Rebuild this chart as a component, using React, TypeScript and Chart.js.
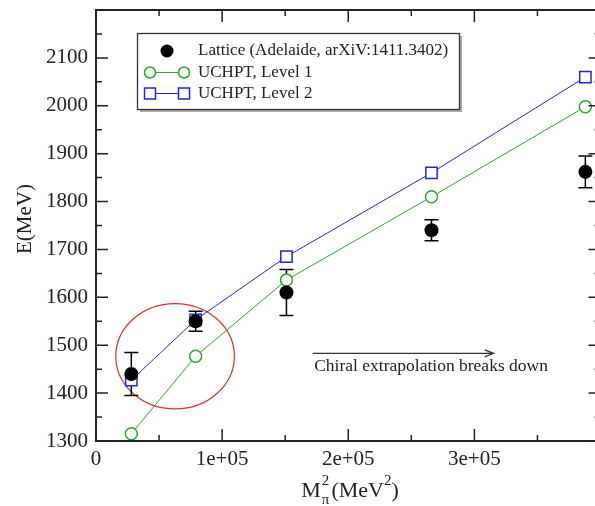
import React, { useEffect, useRef } from "react";
import { Chart, registerables } from "chart.js";

Chart.register(...registerables);

// ---- data ----
const mpiSq = [28000, 79000, 151000, 266000, 388000];
const latticeE = [1440, 1550, 1610, 1740, 1862];
const latticeErr = [45, 21, 48, 22, 33];
const level1E = [1315, 1477, 1636, 1810, 1998];
const level2E = [1427, 1553, 1685, 1860, 2060];

const xTicks = [0, 100000, 200000, 300000];
const yTicks = [1300, 1400, 1500, 1600, 1700, 1800, 1900, 2000, 2100];

const legendLabels = [
  "Lattice (Adelaide, arXiV:1411.3402)",
  "UCHPT, Level 1",
  "UCHPT, Level 2",
];
const annotationText = "Chiral extrapolation breaks down";
const arrowX = [171800, 315300];
const arrowY = 1483;
const annotationPos = [173000, 1456];
const ellipseCenter = [62700, 1477];
const ellipseRadii = [47000, 110];

const GREEN = "#2aa82a";
const BLUE = "#2424e0";
const RED = "#dd3030";
const SERIF = "'Liberation Serif', 'DejaVu Serif', serif";

const decorPlugin = {
  id: "decor",
  beforeDatasetsDraw(chart: any) {
    const { ctx } = chart;
    const xs = chart.scales.x;
    const ys = chart.scales.y;
    // ellipse
    const cx = xs.getPixelForValue(ellipseCenter[0]);
    const cy = ys.getPixelForValue(ellipseCenter[1]);
    const rx = xs.getPixelForValue(ellipseCenter[0] + ellipseRadii[0]) - cx;
    const ry = cy - ys.getPixelForValue(ellipseCenter[1] + ellipseRadii[1]);
    ctx.save();
    ctx.strokeStyle = RED;
    ctx.lineWidth = 1.2;
    ctx.beginPath();
    ctx.ellipse(cx, cy, rx, ry, 0, 0, Math.PI * 2);
    ctx.stroke();
    // error bars
    ctx.strokeStyle = "#000";
    ctx.lineWidth = 1.5;
    mpiSq.forEach((xv, i) => {
      const px = xs.getPixelForValue(xv);
      const top = ys.getPixelForValue(latticeE[i] + latticeErr[i]);
      const bot = ys.getPixelForValue(latticeE[i] - latticeErr[i]);
      ctx.beginPath();
      ctx.moveTo(px, top);
      ctx.lineTo(px, bot);
      ctx.moveTo(px - 7, top);
      ctx.lineTo(px + 7, top);
      ctx.moveTo(px - 7, bot);
      ctx.lineTo(px + 7, bot);
      ctx.stroke();
    });
    ctx.restore();
  },
  afterDraw(chart: any) {
    const { ctx, chartArea } = chart;
    const xs = chart.scales.x;
    const ys = chart.scales.y;
    const { left, right, top, bottom } = chartArea;
    ctx.save();
    // frame
    ctx.strokeStyle = "#222";
    ctx.lineWidth = 2;
    ctx.strokeRect(left, top, right - left, bottom - top);
    // inward ticks
    ctx.lineWidth = 1.5;
    ctx.beginPath();
    for (let v = 0; v <= 400000; v += 50000) {
      const p = xs.getPixelForValue(v);
      const len = v % 100000 === 0 ? 12 : 6;
      ctx.moveTo(p, bottom);
      ctx.lineTo(p, bottom - len);
      ctx.moveTo(p, top);
      ctx.lineTo(p, top + len);
    }
    for (let v = 1300; v <= 2200; v += 50) {
      const p = ys.getPixelForValue(v);
      const len = v % 100 === 0 ? 12 : 6;
      ctx.moveTo(left, p);
      ctx.lineTo(left + len, p);
      ctx.moveTo(right, p);
      ctx.lineTo(right - len, p);
    }
    ctx.stroke();

    // arrow + annotation
    const ax0 = xs.getPixelForValue(arrowX[0]);
    const ax1 = xs.getPixelForValue(arrowX[1]);
    const ay = ys.getPixelForValue(arrowY);
    ctx.strokeStyle = "#333";
    ctx.lineWidth = 1.2;
    ctx.beginPath();
    ctx.moveTo(ax0, ay);
    ctx.lineTo(ax1, ay);
    ctx.moveTo(ax1 - 9, ay - 3.5);
    ctx.lineTo(ax1, ay);
    ctx.lineTo(ax1 - 9, ay + 3.5);
    ctx.stroke();
    ctx.fillStyle = "#222";
    ctx.font = `17.5px ${SERIF}`;
    ctx.textAlign = "left";
    ctx.textBaseline = "middle";
    ctx.fillText(
      annotationText,
      xs.getPixelForValue(annotationPos[0]),
      ys.getPixelForValue(annotationPos[1])
    );

    // legend
    const bx = 137, by = 33, bw = 322, bh = 76;
    ctx.fillStyle = "#fff";
    ctx.fillRect(bx, by, bw, bh);
    ctx.strokeStyle = "#aaa";
    ctx.lineWidth = 2;
    ctx.beginPath();
    ctx.moveTo(bx + bw + 2, by + 3);
    ctx.lineTo(bx + bw + 2, by + bh + 2);
    ctx.lineTo(bx + 3, by + bh + 2);
    ctx.stroke();
    ctx.strokeStyle = "#333";
    ctx.lineWidth = 1.3;
    ctx.strokeRect(bx + 0.5, by + 0.5, bw, bh);
    const rows = [51, 72.5, 93.5];
    // lattice symbol
    ctx.fillStyle = "#000";
    ctx.beginPath();
    ctx.arc(167, rows[0], 6.5, 0, Math.PI * 2);
    ctx.fill();
    // level 1
    ctx.strokeStyle = GREEN;
    ctx.lineWidth = 1;
    ctx.beginPath();
    ctx.moveTo(150, rows[1]);
    ctx.lineTo(184, rows[1]);
    ctx.stroke();
    ctx.lineWidth = 1.5;
    [150, 184].forEach((x) => {
      ctx.beginPath();
      ctx.fillStyle = "#fff";
      ctx.arc(x, rows[1], 5.5, 0, Math.PI * 2);
      ctx.fill();
      ctx.stroke();
    });
    // level 2
    ctx.strokeStyle = BLUE;
    ctx.lineWidth = 1;
    ctx.beginPath();
    ctx.moveTo(150, rows[2]);
    ctx.lineTo(184, rows[2]);
    ctx.stroke();
    ctx.lineWidth = 1.5;
    [150, 184].forEach((x) => {
      ctx.fillStyle = "#fff";
      ctx.fillRect(x - 5.5, rows[2] - 5.5, 11, 11);
      ctx.strokeRect(x - 5.5, rows[2] - 5.5, 11, 11);
    });
    ctx.fillStyle = "#222";
    ctx.font = `17px ${SERIF}`;
    ctx.textAlign = "left";
    ctx.textBaseline = "middle";
    legendLabels.forEach((t, i) => ctx.fillText(t, 198, rows[i]));

    // y title
    ctx.save();
    ctx.translate(25, 219);
    ctx.rotate(-Math.PI / 2);
    ctx.font = `21px ${SERIF}`;
    ctx.textAlign = "center";
    ctx.textBaseline = "middle";
    ctx.fillStyle = "#222";
    ctx.fillText("E(MeV)", 0, 0);
    ctx.restore();

    // x title: M_pi^2(MeV^2)
    const big = `22px ${SERIF}`;
    const small = `15px ${SERIF}`;
    ctx.fillStyle = "#222";
    ctx.textAlign = "left";
    ctx.textBaseline = "alphabetic";
    ctx.font = big;
    const wM = ctx.measureText("M").width;
    const wMid = ctx.measureText("(MeV").width;
    const wClose = ctx.measureText(")").width;
    ctx.font = small;
    const wPi = ctx.measureText("π").width;
    const w2 = ctx.measureText("2").width;
    const total = wM + Math.max(wPi, w2) + 3 + wMid + w2 + wClose;
    let x = 350 - total / 2;
    const base = 497;
    ctx.font = big;
    ctx.fillText("M", x, base);
    x += wM;
    ctx.font = small;
    ctx.fillText("π", x + 1, base + 7);
    ctx.fillText("2", x + 1, base - 12);
    x += Math.max(wPi, w2) + 3;
    ctx.font = big;
    ctx.fillText("(MeV", x, base);
    x += wMid;
    ctx.font = small;
    ctx.fillText("2", x, base - 12);
    x += w2;
    ctx.font = big;
    ctx.fillText(")", x, base);

    ctx.restore();
  },
};

export default function App() {
  const ref = useRef<HTMLCanvasElement>(null);
  useEffect(() => {
    if (!ref.current) return;
    const pts = (ys: number[]) => mpiSq.map((x, i) => ({ x, y: ys[i] }));
    const chart = new Chart(ref.current, {
      type: "line",
      data: {
        datasets: [
          {
            label: legendLabels[0],
            data: pts(latticeE),
            showLine: false,
            pointStyle: "circle",
            pointRadius: 7,
            pointBackgroundColor: "#000",
            pointBorderColor: "#000",
            pointBorderWidth: 0,
          },
          {
            label: legendLabels[2],
            data: pts(level2E),
            showLine: true,
            borderColor: BLUE,
            borderWidth: 1,
            pointStyle: "rect",
            pointRadius: 8,
            pointBackgroundColor: "#fff",
            pointBorderColor: BLUE,
            pointBorderWidth: 1.5,
          },
          {
            label: legendLabels[1],
            data: pts(level1E),
            showLine: true,
            borderColor: GREEN,
            borderWidth: 1,
            pointStyle: "circle",
            pointRadius: 6,
            pointBackgroundColor: "#fff",
            pointBorderColor: GREEN,
            pointBorderWidth: 1.5,
          },
        ],
      },
      options: {
        responsive: false,
        animation: false,
        devicePixelRatio: 1,
        layout: { padding: { left: 0, right: 4, top: 10, bottom: 0 } },
        plugins: { legend: { display: false }, tooltip: { enabled: false } },
        scales: {
          x: {
            type: "linear",
            min: 0,
            max: 400000,
            afterFit: (s: any) => {
              s.height = 65;
              s.paddingLeft = 0;
              s.paddingRight = 0;
              s.paddingTop = 0;
              s.paddingBottom = 0;
            },
            afterBuildTicks: (s: any) => {
              s.ticks = xTicks.map((v) => ({ value: v }));
            },
            grid: { display: false, drawTicks: false },
            border: { display: false },
            ticks: {
              padding: 6,
              color: "#222",
              font: { family: SERIF, size: 21 },
              maxRotation: 0,
              autoSkip: false,
              callback: (v: any) =>
                v === 0 ? "0" : `${Math.round(v / 100000)}e+05`,
            },
          },
          y: {
            type: "linear",
            min: 1300,
            max: 2200,
            afterFit: (s: any) => {
              s.width = 96;
              s.paddingLeft = 0;
              s.paddingRight = 0;
              s.paddingTop = 0;
              s.paddingBottom = 0;
            },
            afterBuildTicks: (s: any) => {
              s.ticks = yTicks.map((v) => ({ value: v }));
            },
            grid: { display: false, drawTicks: false },
            border: { display: false },
            ticks: {
              padding: 8,
              color: "#222",
              font: { family: SERIF, size: 21 },
              autoSkip: false,
              callback: (v: any) => String(v),
            },
          },
        },
      },
      plugins: [decorPlugin],
    });
    return () => chart.destroy();
  }, []);
  return (
    <div
      style={{
        position: "fixed",
        left: 0,
        top: 0,
        width: 595,
        height: 506,
        overflow: "hidden",
        background: "#fff",
      }}
    >
      <canvas
        ref={ref}
        width={610}
        height={506}
        style={{ display: "block", width: 610, height: 506 }}
      />
    </div>
  );
}
